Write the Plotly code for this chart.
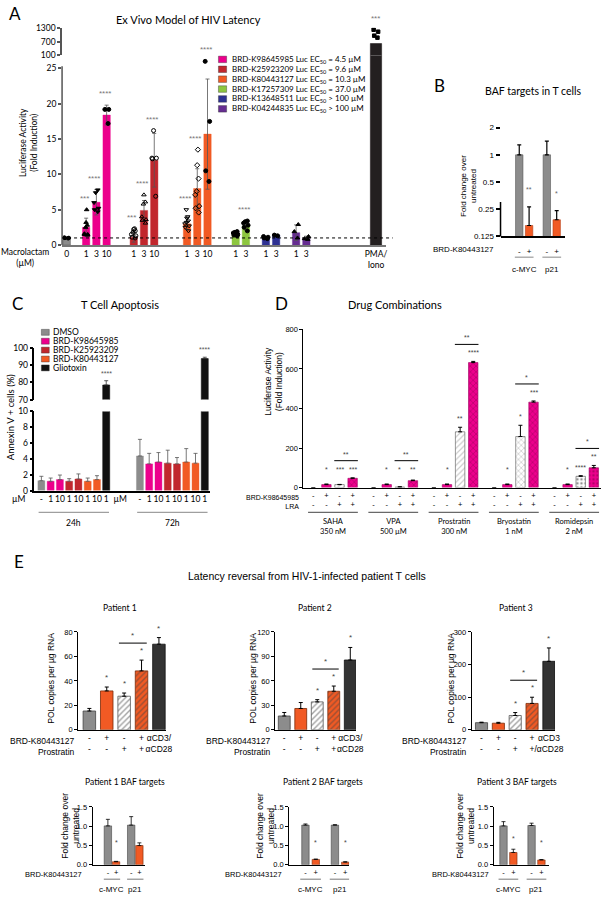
import numpy as np
import plotly.graph_objects as go

# ---------------- data ----------------
# A: ex vivo model of HIV latency (fold induction)
a_compounds = ['BRD-K98645985', 'BRD-K25923209', 'BRD-K80443127',
               'BRD-K17257309', 'BRD-K13648511', 'BRD-K04244835']
a_ec50 = ['= 4.5 µM', '= 9.6 µM', '= 10.3 µM', '= 37.0 µM', '> 100 µM', '> 100 µM']
a_doses = [['1', '3', '10'], ['1', '3', '10'], ['1', '3', '10'], ['1', '3'], ['1', '3'], ['1', '3']]
a_mean = [[2.5, 6.05, 18.4], [1.1, 4.9, 12.0], [3.0, 8.0, 15.7], [1.5, 2.7], [1.05, 1.4], [1.75, 0.95]]
a_sd = [[1.3, 1.8, 1.4], [0.7, 1.4, 3.8], [0.8, 2.8, 7.8], [0.3, 0.6], [0.15, 0.1], [1.1, 0.3]]
a_points = [
    [[5.0, 3.2, 2.5, 1.5, 1.4, 1.6, 1.5, 2.8], [7.8, 7.4, 5.0, 4.7, 5.2, 6.0], [19.2, 19.2, 17.2]],
    [[2.2, 2.0, 1.8, 1.5, 1.3, 1.1, 1.0, 2.3], [7.1, 6.1, 5.8, 4.0, 3.6, 3.1, 3.5], [16.2, 12.3, 12.2, 12.3, 6.9]],
    [[5.0, 4.0, 3.8, 3.4, 3.0, 2.7, 2.5, 3.2, 2.0], [13.5, 11.3, 9.4, 7.6, 7.1, 5.5, 5.2, 4.6], [26.0, 17.5, 10.5, 9.0]],
    [[1.9, 1.8, 1.7, 1.5, 1.4, 1.3], [3.4, 3.3, 3.1, 2.8, 2.5, 2.0]],
    [[1.2, 1.1, 1.0, 0.9], [1.4, 1.3]],
    [[2.9, 1.9, 1.0], [1.2, 0.9, 0.8]],
]
a_stars = [['***', '****', '****'], ['***', '****', '****'], ['****', '****', '****'],
           ['', '****'], ['', ''], ['', '']]
a_dmso_mean = 1.0
a_dmso_sd = 0.1
a_dmso_points = [1.0, 1.05, 0.95, 1.0]
a_pma_mean = 614
a_pma_points = [1214, 1129, 957, 871]
a_pma_star = '***'

# B: BAF targets in T cells
b_genes = ['c-MYC', 'p21']
b_ctrl = [1.0, 1.0]
b_ctrl_err = [0.29, 0.42]
b_trt = [0.165, 0.191]
b_trt_err = [0.10, 0.05]
b_stars = ['**', '*']
b_ticks = [0.125, 0.25, 0.5, 1, 2]

# C: T cell apoptosis (% annexin V+)
c_names = ['DMSO', 'BRD-K98645985', 'BRD-K25923209', 'BRD-K80443127', 'Gliotoxin']
c_doses = ['-', '1', '10', '1', '10', '1', '10', '1']
c_which = [0, 1, 1, 2, 2, 3, 3, 4]
c_24h = [1.25, 1.17, 1.38, 1.17, 1.46, 1.17, 1.38, 78.5]
c_24h_err = [0.55, 0.41, 0.58, 0.33, 0.64, 0.41, 0.5, 2.5]
c_72h = [4.37, 3.37, 3.6, 3.46, 3.37, 3.6, 3.46, 93.9]
c_72h_err = [2.1, 1.33, 1.2, 1.64, 0.8, 1.7, 1.24, 0.8]
c_times = ['24h', '72h']
c_stars = ['****', '****']

# D: drug combinations
d_lras = ['SAHA<br>350 nM', 'VPA<br>500 µM', 'Prostratin<br>300 nM', 'Bryostatin<br>1 nM', 'Romidepsin<br>2 nM']
d_brd = ['-', '+', '-', '+']
d_lra = ['-', '-', '+', '+']
d_vals = [[0, 15, 15, 47], [0, 15, 3, 35], [0, 15, 282, 632], [0, 15, 258, 432], [0, 15, 57, 100]]
d_err = [[0, 3, 1, 2], [0, 3, 1, 3], [0, 3, 23, 6], [0, 3, 57, 6], [0, 3, 3, 12]]
d_stars = [['', '*', '***', '***'], ['', '*', '*', '**'], ['', '*', '**', '****'],
           ['', '*', '*', '***'], ['', '*', '****', '**']]
d_pair_stars = ['**', '**', '**', '*', '*']

# E top: POL copies per µg RNA
e_patients = ['Patient 1', 'Patient 2', 'Patient 3']
e_row1 = [['-', '+', '-', '+', 'αCD3/'], ['-', '+', '-', '+', 'αCD3/'], ['-', '+', '-', '+', 'αCD3']]
e_row2 = [['-', '-', '+', '+', 'αCD28'], ['-', '-', '+', '+', 'αCD28'], ['-', '-', '+', '+', '/αCD28']]
e_pol = [[15.4, 31.8, 27.5, 48.2, 70.0], [17.0, 26.2, 34.3, 47.3, 85.6], [22.0, 20.4, 44.0, 81.0, 210.0]]
e_pol_err = [[2.1, 3.2, 2.6, 8.8, 5.4], [4.3, 7.3, 2.7, 6.4, 15.4], [1.5, 2.6, 9.0, 19.0, 41.0]]
e_pol_stars = [['', '*', '*', '*', '*'], ['', '', '*', '*', '*'], ['', '', '*', '*', '*']]
e_pair_star = ['*', '*', '*']
e_ymax = [80, 120, 300]
e_dtick = [20, 30, 100]

# E bottom: BAF targets per patient
e_genes = ['c-MYC', 'p21']
e_baf_ctrl = [[1.01, 1.03], [1.03, 1.03], [1.01, 1.02]]
e_baf_ctrl_err = [[0.17, 0.22], [0.03, 0.01], [0.11, 0.06]]
e_baf_trt = [[0.08, 0.5], [0.14, 0.07], [0.32, 0.127]]
e_baf_trt_err = [[0.01, 0.07], [0.01, 0.01], [0.085, 0.01]]
e_baf_stars = [['*', ''], ['*', '*'], ['*', '*']]

# ---------------- helpers ----------------
W, H = 612, 900
SANS = 'Liberation Sans, Arial, sans-serif'
MYR = 'Lato, Open Sans, sans-serif'
GRAY = '#8c8c8c'
PINK = '#ec008c'
RED = '#c1272d'
ORANGE = '#f15a24'
a_colors = [PINK, RED, ORANGE, '#8dc63f', '#2e3192', '#662d91']
c_colors = [GRAY, PINK, RED, ORANGE, '#111111']


def fx(x):
    return x / W


def fy(y):
    return 1 - y / H


fig = go.Figure()
shapes, annots = [], []
layout = dict(width=W, height=H, margin=dict(l=0, r=0, t=0, b=0),
              paper_bgcolor='white', plot_bgcolor='rgba(0,0,0,0)',
              barmode='overlay', boxmode='overlay', showlegend=False,
              font=dict(family=SANS, size=8, color='black'))


def axes(n, xpx, ypx, xr, yr, xkw=None, ykw=None):
    s = '' if n == 1 else str(n)
    base = dict(showgrid=False, zeroline=False, showline=True, linecolor='black',
                linewidth=1, fixedrange=True, tickfont=dict(size=8, family=SANS, color='black'))
    xa = dict(base, domain=[fx(xpx[0]), fx(xpx[1])], range=xr, anchor='y' + s, ticks='',
              tickangle=0)
    ya = dict(base, domain=[fy(ypx[1]), fy(ypx[0])], range=yr, anchor='x' + s,
              ticks='outside', ticklen=3, tickwidth=1, tickcolor='black')
    xa.update(xkw or {})
    ya.update(ykw or {})
    layout['xaxis' + s] = xa
    layout['yaxis' + s] = ya
    return 'x' + s, 'y' + s


def bars(xa, ya, x, y, color, width, line='black', lw=0.6, err=None, errm=None,
         ecolor='black', ethick=0.8, pattern=None):
    marker = dict(color=color, line=dict(color=line, width=lw))
    if pattern:
        marker['pattern'] = pattern
    kw = {}
    if err is not None:
        kw['error_y'] = dict(type='data', symmetric=False, array=err,
                             arrayminus=errm if errm is not None else [0] * len(err),
                             color=ecolor, thickness=ethick, width=2)
    fig.add_trace(go.Bar(x=x, y=y, xaxis=xa, yaxis=ya, width=width, marker=marker,
                         hoverinfo='skip', **kw))


def dots(xa, ya, x, y, symbol='circle', size=4):
    fig.add_trace(go.Box(x=[x] * len(y), y=y, xaxis=xa, yaxis=ya, boxpoints='all',
                         jitter=0.9, pointpos=0, width=0.6,
                         fillcolor='rgba(0,0,0,0)', line=dict(width=0, color='rgba(0,0,0,0)'),
                         marker=dict(color='black', size=size, symbol=symbol,
                                     line=dict(color='black', width=1)),
                         hoverinfo='skip'))


def text(s, x, y, size=8, family=SANS, anchor='center', angle=0, align='center', color='black'):
    annots.append(dict(text=s, x=fx(x), y=fy(y), xref='paper', yref='paper', showarrow=False,
                       xanchor=anchor, yanchor='middle', textangle=angle, align=align,
                       font=dict(size=size, family=family, color=color)))


def dtext(s, x, xa, y, size=8, family=SANS):
    annots.append(dict(text=s, x=x, y=fy(y), xref=xa, yref='paper', showarrow=False,
                       xanchor='center', yanchor='middle',
                       font=dict(size=size, family=family, color='black')))


def star(s, x, y, xa, ya, shift, size=7, color='#444', xshift=0):
    if not s:
        return
    annots.append(dict(text=s, x=x, y=y, xref=xa, yref=ya, showarrow=False, yanchor='bottom',
                       yshift=shift, xshift=xshift,
                       font=dict(size=size, family=SANS, color=color)))


def rule(x0, x1, y, xref='paper', color='#888', width=1):
    shapes.append(dict(type='line', xref=xref, yref='paper', x0=x0, x1=x1, y0=fy(y), y1=fy(y),
                       line=dict(color=color, width=width)))


def bracket(xa, ya, x0, x1, anchor, up, color='black'):
    shapes.append(dict(type='line', xref=xa, yref=ya, x0=x0, x1=x1, ysizemode='pixel',
                       yanchor=anchor, y0=up, y1=up, line=dict(color=color, width=1)))


# ---------------- A ----------------
a_starts = [1.9, 6.55, 11.75, 16.5, 19.45, 22.4]
a_pma_x = 30.2
a_xr = [-0.45, 31.2]
a_pos = [[a_starts[i] + j for j in range(len(a_mean[i]))] for i in range(6)]
A_L, A_R, A_BOT, A_TOP, A_CUT = 63, 392, 242.7, 62, 51
a_scale = (A_BOT - A_TOP) / 25.3
AX = '#555'
xa1, ya1 = axes(1, (A_L, A_R), (A_CUT, A_BOT), a_xr, [0, 25.3 + (A_TOP - A_CUT) / a_scale],
                xkw=dict(tickvals=[0] + sum(a_pos, []) + [a_pma_x],
                         ticktext=['0'] + sum(a_doses, []) + ['PMA/<br>Iono'],
                         linecolor='#777', linewidth=2, tickfont=dict(size=8.5, family=MYR)),
                ykw=dict(tickvals=[0, 5, 10, 15, 20, 25], showline=False, tickcolor=AX,
                         tickwidth=1.5, tickfont=dict(size=8.5, family=MYR)))
xa2, ya2 = axes(2, (A_L, A_R), (23, A_CUT), a_xr, [100, 1300],
                xkw=dict(visible=False, matches='x'),
                ykw=dict(tickvals=[100, 700, 1300], linecolor=AX, linewidth=1.5, tickcolor=AX,
                         tickwidth=1.5, tickfont=dict(size=8.5, family=MYR)))
shapes.append(dict(type='line', xref='paper', yref='y', x0=fx(A_L), x1=fx(A_L), y0=0, y1=25.3,
                   line=dict(color=AX, width=1.5)))
shapes.append(dict(type='line', xref='x domain', yref='y', x0=0, x1=1.02, y0=1, y1=1,
                   line=dict(color='black', width=1, dash='dot')))

bars(xa1, ya1, [0], [a_dmso_mean], GRAY, 0.72, line='#666', err=[a_dmso_sd], errm=[a_dmso_sd], ecolor='#555')
dots(xa1, ya1, 0, a_dmso_points, 'circle', 3.5)
a_symbols = [['triangle-up', 'triangle-down', 'circle'],
             ['circle-open', 'triangle-up-open', 'circle-open'],
             ['triangle-down-open', 'diamond-open', 'circle'],
             ['circle', 'circle'], ['circle', 'circle'], ['triangle-up', 'triangle-up']]
for i in range(6):
    bars(xa1, ya1, a_pos[i], a_mean[i], a_colors[i], 0.72, line=a_colors[i], lw=0.4,
         err=a_sd[i], errm=a_sd[i], ecolor='#555')
for i in range(6):
    for j in range(len(a_mean[i])):
        dots(xa1, ya1, a_pos[i][j], a_points[i][j], a_symbols[i][j], 4)
        top = max(max(a_points[i][j]), a_mean[i][j] + a_sd[i][j])
        star(a_stars[i][j], a_pos[i][j], top, xa1, ya1, 5, size=8, color='#777', xshift=-2)
bars(xa1, ya1, [a_pma_x], [a_pma_mean], '#231f20', 1.1, line='#231f20')
bars(xa2, ya2, [a_pma_x], [a_pma_mean], '#231f20', 1.1, line='#231f20')
dots(xa2, ya2, a_pma_x, a_pma_points, 'square', 3.5)
star(a_pma_star, a_pma_x, max(a_pma_points), xa2, ya2, 5, size=8, color='#777')

text('A', 15, 9, size=17, family=MYR)
text('Ex Vivo Model of HIV Latency', 191, 15, size=11, family=MYR)
text('Luciferase Activity<br>(Fold Induction)', 29, 139, size=8.5, family=MYR, angle=-90)
text('Macrolactam<br>(µM)', 25, 255.5, size=8.5, family=MYR)
for i in range(6):
    yc = 55 + 10 * i
    shapes.append(dict(type='rect', xref='paper', yref='paper', x0=fx(221.7), x1=fx(230),
                       y0=fy(yc + 3.3), y1=fy(yc - 3.3), fillcolor=a_colors[i],
                       line=dict(color='#333', width=0.4)))
    text(f'{a_compounds[i]} Luc EC<sub>50</sub> {a_ec50[i]}', 233, yc, size=8, family=MYR, anchor='left')

# ---------------- B ----------------
b_pos = [0, 2.8]
B_PER_DOUBLING = (234 - 124) / 4
b_top = 2.1
xa3, ya3 = axes(3, (508, 573), (124 - B_PER_DOUBLING * np.log2(b_top / 2), 234), [-1.9, 4.6],
                [np.log10(0.125), np.log10(b_top)],
                xkw=dict(tickvals=[b_pos[0], b_pos[0] + 1, b_pos[1], b_pos[1] + 1],
                         ticktext=['-', '+', '-', '+'], linewidth=1.5, ticklabelstandoff=6,
                         tickfont=dict(size=8, family=SANS)),
                ykw=dict(type='log', tickmode='array', tickvals=b_ticks,
                         ticktext=[f'{v:g}' for v in b_ticks], showline=False,
                         tickwidth=1.5, ticklen=4, tickfont=dict(size=8, family=SANS)))
shapes.append(dict(type='line', xref='paper', yref='y3', x0=fx(508), x1=fx(508),
                   y0=np.log10(0.125), y1=np.log10(2), line=dict(color='black', width=1.5)))
bars(xa3, ya3, b_pos, b_ctrl, GRAY, 0.75, line='#555', err=b_ctrl_err, ethick=1.2)
bars(xa3, ya3, [p + 1 for p in b_pos], b_trt, ORANGE, 0.75, line='#b33b10', err=b_trt_err, ethick=1.2)
for i in range(2):
    star(b_stars[i], b_pos[i] + 1, np.log10(b_trt[i] + b_trt_err[i]), xa3, ya3, 12, size=7, color='#666')
    rule(b_pos[i] - 0.45, b_pos[i] + 1.45, 255, xref=xa3, color='#888')
    dtext(b_genes[i], b_pos[i] + 0.5, xa3, 267, size=8)
text('BRD-K80443127', 503, 247, size=8, anchor='right')
text('Fold change over<br>untreated', 476, 183, size=8, angle=-90)
text('B', 446, 81, size=17, family=MYR)
text('BAF targets in T cells', 541, 87, size=10.5, family=MYR)

# ---------------- C ----------------
c_pos = [list(range(8)), [10.64 + i for i in range(8)]]
c_xr = [-0.745, 18.19]
xa4, ya4 = axes(4, (35, 213), (411, 491), c_xr, [0, 10],
                xkw=dict(tickvals=c_pos[0] + [8.5] + c_pos[1], ticktext=c_doses + ['µM'] + c_doses,
                         linewidth=1.5, tickfont=dict(size=8.5, family=MYR)),
                ykw=dict(dtick=2, linewidth=1.5, tickwidth=1.5, tickfont=dict(size=8.5, family=MYR)))
xa5, ya5 = axes(5, (35, 213), (347, 399), c_xr, [70, 100],
                xkw=dict(visible=False, matches='x4'),
                ykw=dict(tickvals=[70, 80, 90, 100], linewidth=1.5, tickwidth=1.5,
                         tickfont=dict(size=8.5, family=MYR)))
for j in range(8):
    col = c_colors[c_which[j]]
    xs = [c_pos[0][j], c_pos[1][j]]
    ys = [c_24h[j], c_72h[j]]
    es = [c_24h_err[j], c_72h_err[j]]
    if c_which[j] == 4:
        bars(xa4, ya4, xs, ys, col, 0.75, line=col)
        bars(xa5, ya5, xs, ys, col, 0.75, line=col, err=es, ecolor='#333')
        for t in range(2):
            star(c_stars[t], xs[t], ys[t] + es[t], xa5, ya5, 2, size=7, color='#555')
    else:
        bars(xa4, ya4, xs, ys, col, 0.75, line=col, lw=0.4, err=es, ecolor='#555')
for t in range(2):
    rule(c_pos[t][0] - 0.3, c_pos[t][7] + 0.3, 513, xref=xa4, color='#888')
    dtext(c_times[t], (c_pos[t][0] + c_pos[t][7]) / 2, xa4, 524, size=8.5, family=MYR)
text('µM', 19, 500, size=8.5, family=MYR)
text('Annexin V + cells (%)', 11, 417, size=9.5, family=MYR, angle=-90)
for i in range(5):
    yc = 331 + 9 * i
    shapes.append(dict(type='rect', xref='paper', yref='paper', x0=fx(42), x1=fx(50),
                       y0=fy(yc + 3), y1=fy(yc - 3), fillcolor=c_colors[i],
                       line=dict(color='#333', width=0.4)))
    text(c_names[i], 52, yc, size=8.5, family=MYR, anchor='left')
text('C', 18, 302, size=17, family=MYR)
text('T Cell Apoptosis', 122, 303, size=11, family=MYR)

# ---------------- D ----------------
d_pos = [[g * 4.6 + i for i in range(4)] for g in range(5)]
xa6, ya6 = axes(6, (308, 610), (328, 488), [-0.75, 21.95], [0, 800],
                xkw=dict(tickvals=sum(d_pos, []),
                         ticktext=[f'{a}<br>{b}' for _ in d_lras for a, b in zip(d_brd, d_lra)],
                         tickfont=dict(size=7.5, family=SANS)),
                ykw=dict(dtick=200, tickfont=dict(size=7.5, family=SANS)))
d_styles = [
    dict(color=PINK, line=PINK, lw=0, pattern=None),
    dict(color=PINK, line='#9e0060', lw=0.6, pattern=None),
    dict(color='white', line='#555', lw=0.6,
         pattern=dict(shape=['/', '/', '/', 'x', '.'], fgcolor=['#999', '#999', '#999', '#888', '#222'],
                      bgcolor='white', fillmode='overlay', size=4, solidity=0.3)),
    dict(color=PINK, line='#9e0060', lw=0.6,
         pattern=dict(shape=['x', 'x', 'x', 'x', '.'], fgcolor='#7a0048', bgcolor=PINK,
                      fillmode='overlay', size=4, solidity=0.3)),
]
for i in range(4):
    st = d_styles[i]
    bars(xa6, ya6, [d_pos[g][i] for g in range(5)], [d_vals[g][i] for g in range(5)],
         st['color'], 0.72, line=st['line'], lw=st['lw'],
         err=[d_err[g][i] for g in range(5)], ethick=1, pattern=st['pattern'])
for g in range(5):
    for i in range(4):
        star(d_stars[g][i], d_pos[g][i], max(d_vals[g][i] + d_err[g][i], 50), xa6, ya6, 3, size=7)
    anchor = max(d_vals[g][3] + d_err[g][3], 50)
    bracket(xa6, ya6, d_pos[g][2] - 0.4, d_pos[g][3] + 0.4, anchor, 17)
    star(d_pair_stars[g], (d_pos[g][2] + d_pos[g][3]) / 2, anchor, xa6, ya6, 18, size=7)
    rule(d_pos[g][0] - 0.4, d_pos[g][3] + 0.4, 513, xref=xa6, color='#444')
    dtext(d_lras[g], (d_pos[g][0] + d_pos[g][3]) / 2, xa6, 527, size=7.5, family=MYR)
text('BRD-K98645985<br>LRA', 305, 503, size=7, anchor='right', align='right')
text('Luciferase Activity<br>(Fold Induction)', 278, 380, size=8.5, angle=-90)
text('D', 286, 302, size=17, family=MYR)
text('Drug Combinations', 401, 303, size=11, family=MYR)

# ---------------- E top ----------------
e_top_geom = [(79.3, 168.5, 90.7, 17.65), (279.3, 361.3, 288.5, 16.75), (478.7, 563.3, 488.7, 17.1)]
e_top_title_x = [52, 257, 458]
e_top_label_x = [78.5, 277, 476]
e_title_x = [122, 320, 524]
e_fill = [GRAY, ORANGE, 'white', ORANGE, '#333333']
e_line = ['#444', '#7a2a08', '#555', '#7a2a08', '#111']
e_patt = dict(shape=['', '', '/', '/', ''], fgcolor=['#444', '#444', '#aaa', '#8a2d0a', '#444'],
              bgcolor=e_fill, fillmode='overlay', size=4, solidity=0.35)
for p in range(3):
    ax_px, right_px, first_px, unit = e_top_geom[p]
    xr = [(ax_px - first_px) / unit, (right_px - first_px) / unit]
    xa, ya = axes(7 + p, (ax_px, right_px), (634, 733), xr, [0, e_ymax[p]],
                  xkw=dict(tickvals=list(range(5)),
                           ticktext=[f'{a}<br>{b}' for a, b in zip(e_row1[p], e_row2[p])],
                           tickfont=dict(size=8.5, family=SANS)),
                  ykw=dict(dtick=e_dtick[p], tickfont=dict(size=7.5, family=SANS)))
    bars(xa, ya, list(range(5)), e_pol[p], e_fill, 0.72, line=e_line, lw=0.8,
         err=e_pol_err[p], ethick=1, pattern=e_patt)
    for j in range(5):
        star(e_pol_stars[p][j], j, e_pol[p][j] + e_pol_err[p][j], xa, ya, 3, size=8)
    anchor = e_pol[p][3] + e_pol_err[p][3]
    bracket(xa, ya, 2 - 0.3, 3 + 0.3, anchor, 17)
    star(e_pair_star[p], 2.5, anchor, xa, ya, 18, size=8)
    text('BRD-K80443127<br>Prostratin', e_top_label_x[p], 749.5, size=8.5, anchor='right', align='right')
    text('POL copies per µg RNA', e_top_title_x[p], 681, size=8.5, angle=-90)
    text(e_patients[p], e_title_x[p], 610, size=8.5, family=MYR)

# ---------------- E bottom ----------------
e_bot_geom = [(94, 147, 109.5, 8.3), (293.5, 354.3, 310, 10.5), (501, 556.7, 511, 10.0)]
e_bot_title_x = [127, 328, 525]
e_bot_ytitle_x = [72, 270, 473]
e_bot_label_x = [85, 288.5, 498.5]
e_pair = [0, 2.85]
for p in range(3):
    ax_px, right_px, first_px, unit = e_bot_geom[p]
    xr = [(ax_px - first_px) / unit, (right_px - first_px) / unit]
    xa, ya = axes(10 + p, (ax_px, right_px), (811, 869.5), xr, [0, 1.5],
                  xkw=dict(tickvals=[e_pair[0], e_pair[0] + 1, e_pair[1], e_pair[1] + 1],
                           ticktext=['-', '+', '-', '+'], tickfont=dict(size=7.5, family=SANS)),
                  ykw=dict(tickvals=[0, 0.5, 1, 1.5], tickformat='.1f',
                           tickfont=dict(size=7.5, family=SANS)))
    w = 7.5 / unit
    bars(xa, ya, e_pair, e_baf_ctrl[p], GRAY, w, line='#444', lw=0.6, err=e_baf_ctrl_err[p])
    bars(xa, ya, [q + 1 for q in e_pair], e_baf_trt[p], ORANGE, w, line='#7a2a08', lw=0.6,
         err=e_baf_trt_err[p])
    for g in range(2):
        star(e_baf_stars[p][g], e_pair[g] + 1, max(e_baf_trt[p][g] + e_baf_trt_err[p][g], 0.3),
             xa, ya, 5, size=7)
        rule(e_pair[g] - 0.5, e_pair[g] + 1.5, 884, xref=xa, color='#777')
        dtext(e_genes[g], e_pair[g] + 0.5, xa, 894.5, size=8)
    text('BRD-K80443127', e_bot_label_x[p], 879, size=7.5, anchor='right')
    text('Fold change over<br>untreated', e_bot_ytitle_x[p], 830, size=8.5, angle=-90)
    text(f'{e_patients[p]} BAF targets', e_bot_title_x[p], 786, size=8.5, family=MYR)

text('E', 19, 563, size=17, family=MYR)
text('Latency reversal from HIV-1-infected patient T cells', 312, 577, size=10.5, family=SANS)

layout['shapes'] = shapes
layout['annotations'] = annots
fig.update_layout(**layout)
# the page's default body margin would shift the figure by 8px
fig.write_html('out.html', config={'displayModeBar': False},
               post_script="document.body.style.margin='0';")
